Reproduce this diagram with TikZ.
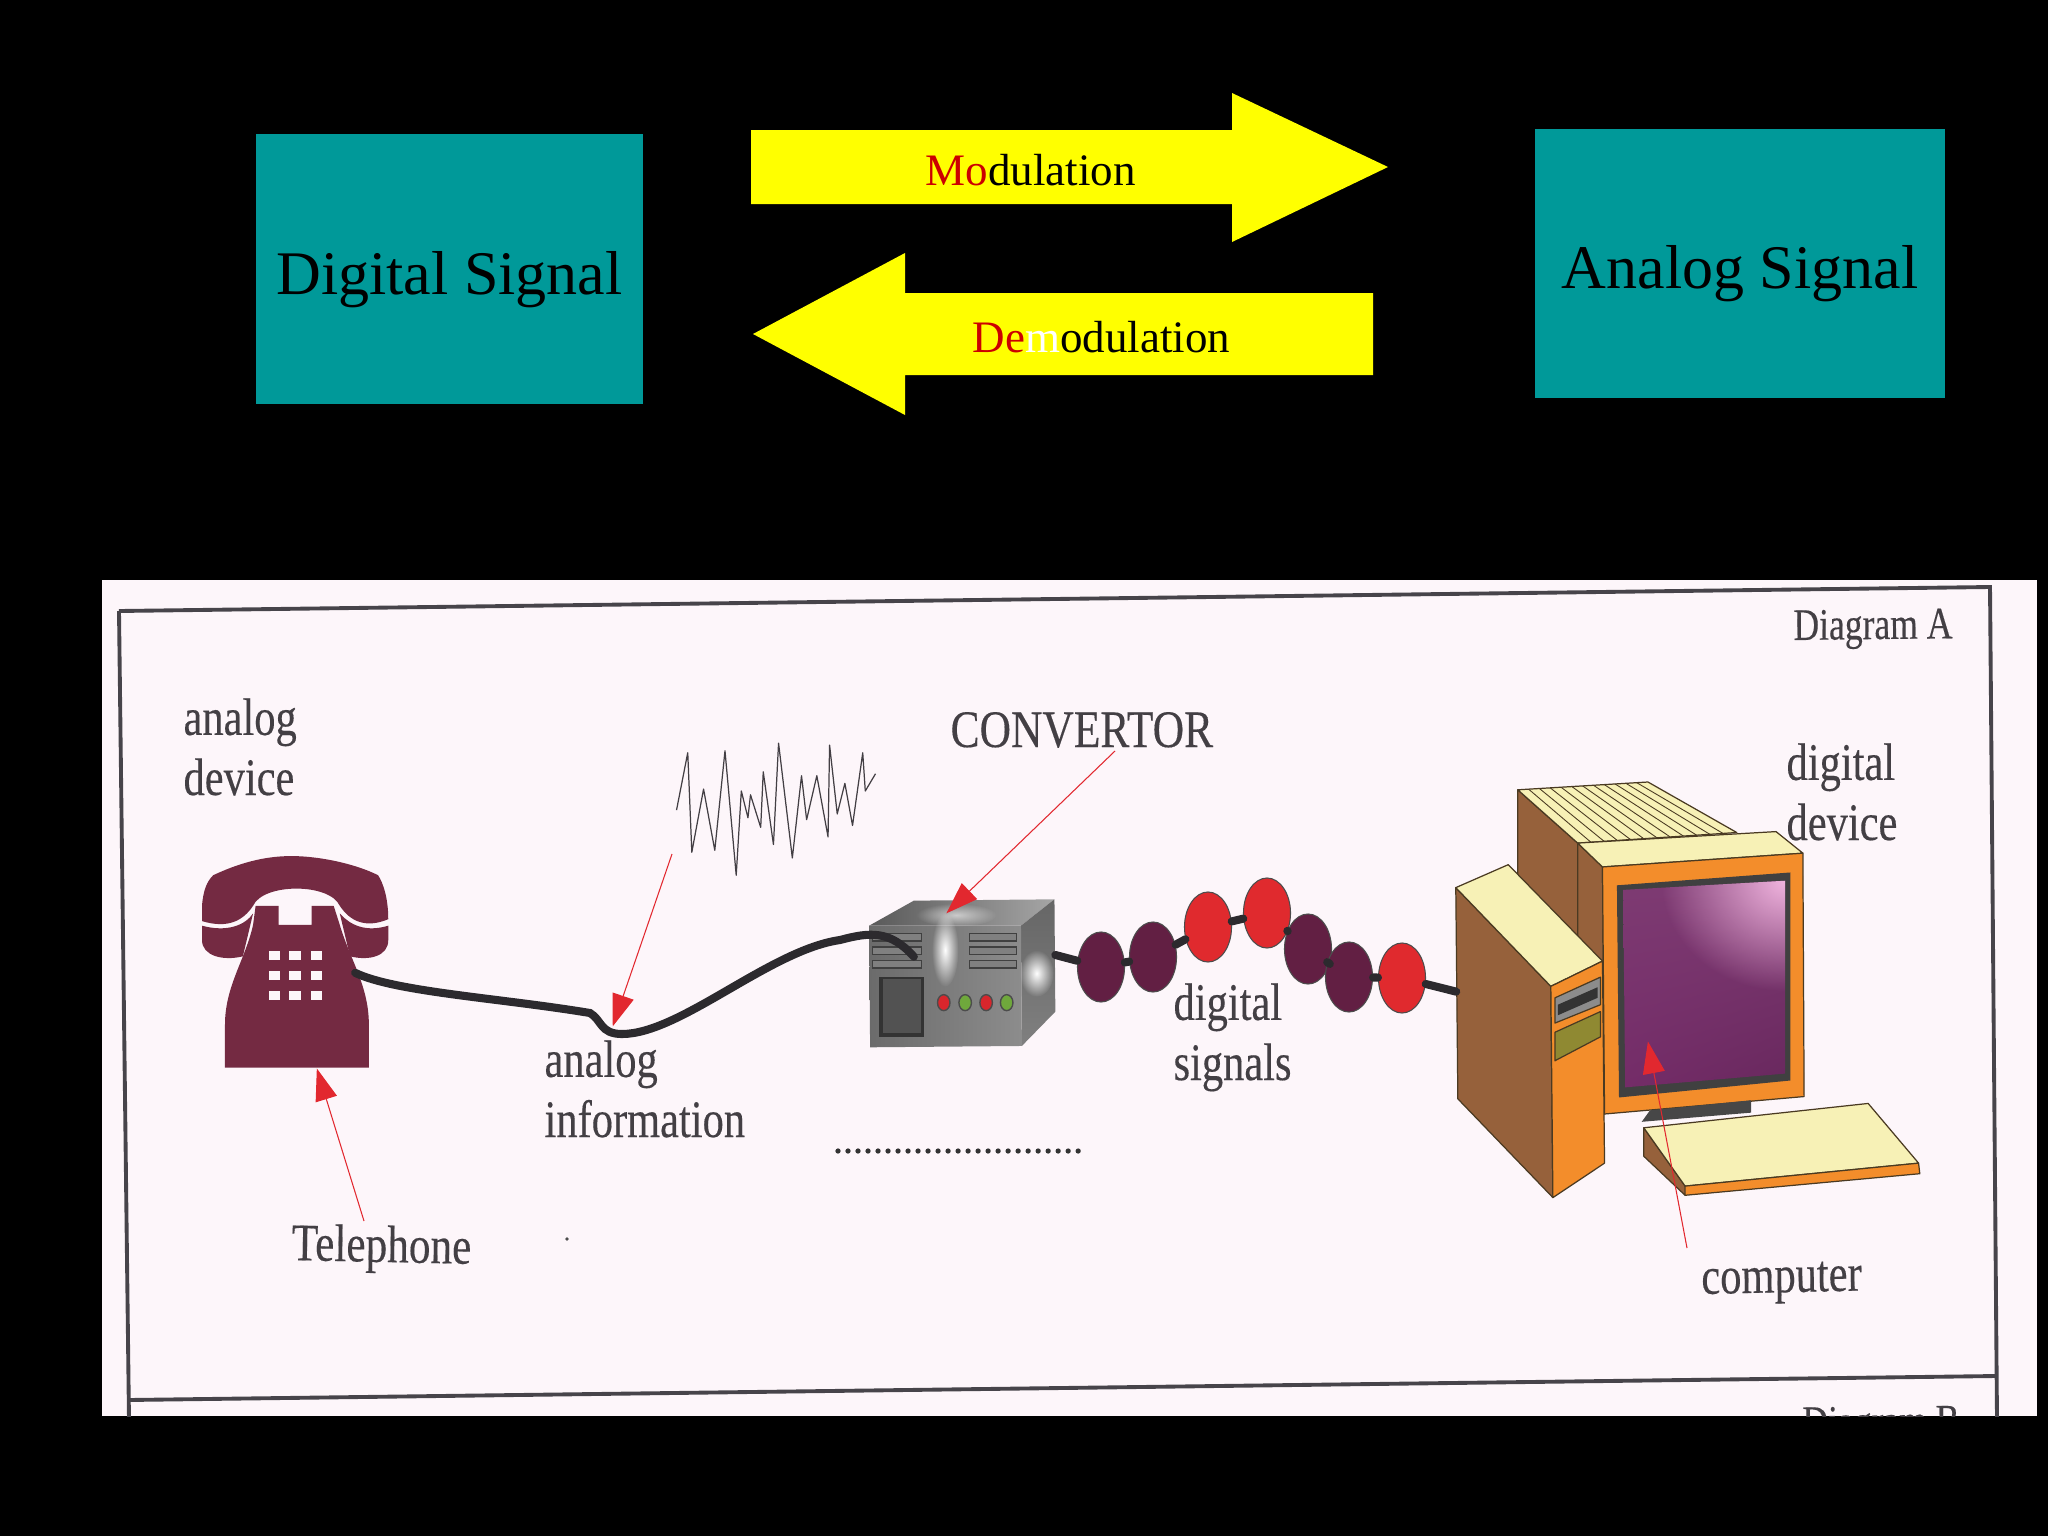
\documentclass[tikz,border=0pt]{standalone}
\usepackage{fontspec}
\setmainfont{Liberation Serif}
\newfontfamily\scanfont[FakeBold=.3]{Liberation Serif}
\usetikzlibrary{arrows.meta, shapes.geometric, shadings, fadings}

\definecolor{signalteal}{HTML}{009999}
\definecolor{arrowyellow}{HTML}{FFFF00}
\definecolor{wordred}{HTML}{CC0000}
\definecolor{paper}{HTML}{FDF6FA}
\definecolor{framegrey}{HTML}{47444A}
\definecolor{labelgrey}{HTML}{433F44}
\definecolor{phonered}{HTML}{742A42}
\definecolor{cablegrey}{HTML}{2C2A2E}
\definecolor{leaderred}{HTML}{E2282F}
\definecolor{beadpurple}{HTML}{621F43}
\definecolor{beadred}{HTML}{E02A2E}
\definecolor{cream}{HTML}{F7F1B6}
\definecolor{caseorange}{HTML}{F38D2B}
\definecolor{casebrown}{HTML}{96613B}
\definecolor{caseline}{HTML}{4A3A22}
\definecolor{screenpurple}{HTML}{742C68}
\definecolor{screenpink}{HTML}{F0B4DE}
\definecolor{ledgreen}{HTML}{6FA83C}
\definecolor{ledred}{HTML}{D8262C}

\tikzfading[name=glow, inner color=transparent!0, outer color=transparent!100]

\tikzstyle{signalbox} = [rectangle, inner sep=0, text=black, fill=signalteal, text height=.5cm, text depth=0pt, font=\fontsize{17.64}{20}\selectfont]
\tikzstyle{wordlabel} = [inner sep=0, anchor=base west, text=black, font=\fontsize{12.8}{15}\selectfont]
\tikzstyle{scanlabel}[.805] = [inner sep=0, anchor=base west, align=left, text=labelgrey, xscale=#1, transform shape, font=\scanfont\fontsize{15}{17.1}\selectfont]
\tikzstyle{frameline} = [draw=framegrey, line width=1.1pt]
\tikzstyle{cable} = [draw=cablegrey, line width=2.3pt, line cap=round]
\tikzstyle{leader} = [draw=leaderred, line width=.3pt, -{Triangle[length=.32cm,width=.22cm]}]
\tikzstyle{bead} = [ellipse, inner sep=0, minimum width=.47cm, minimum height=.7cm, draw=black!70, line width=.3pt]
\tikzstyle{caseface} = [draw=caseline, line width=.35pt, line join=round]
\tikzstyle{phonearea} = [shift={(100,680)}, xscale=.5102, yscale=.3827]
\tikzstyle{convarea} = [shift={(800,680)}, xscale=.4464, yscale=.3333]
\tikzstyle{compuarea} = [shift={(1400,720)}, xscale=.4132, yscale=.4592]

\begin{document}
\begin{tikzpicture}[x=.01cm, y=-.01cm]
        \useasboundingbox (0,0) rectangle (2048,1536);
        \fill[black] (0,0) rectangle (2048,1536);

        % Boxes
        \node (digital) [signalbox, minimum width=3.87cm, minimum height=2.70cm] at (449.5,269) {Digital Signal};
        \node (analog) [signalbox, minimum width=4.10cm, minimum height=2.69cm] at (1740,263.5) {Analog Signal};

        % Big arrows
        \fill[arrowyellow] (751,130) -- (1232,130) -- (1232,93) -- (1388,167) -- (1232,242) -- (1232,204) -- (751,204) -- cycle;
        \fill[arrowyellow] (1373,293) -- (905,293) -- (905,253) -- (753,334) -- (905,415) -- (905,375) -- (1373,375) -- cycle;
        \node (modulation) [wordlabel] at (925,185) {\textcolor{wordred}{Mo}dulation};
        \node (demodulation) [wordlabel] at (972,352) {\textcolor{wordred}{De}\textcolor{white}{m}odulation};

        % Scanned sheet
        \fill[paper] (102,580) rectangle (2037,1416);
        \begin{scope}
        \clip (102,580) rectangle (2037,1416);
        \draw[frameline] (119,611) -- (1990,587) -- (1997,1420);
        \draw[frameline] (119,611) -- (129,1420);
        \draw[frameline] (128,1400) -- (1996,1376);
        \node (diagramb) [scanlabel=.79, font=\scanfont\fontsize{12.8}{15}\selectfont, rotate=.5] at (1802,1437) {Diagram B};
        \end{scope}
        \node (diagrama) [scanlabel=.79, font=\scanfont\fontsize{12.8}{15}\selectfont, rotate=.5] at (1793,640) {Diagram A};

        % Telephone
        \begin{scope}[phonearea]
        \fill[phonered] (200,630) -- (200,590) .. controls (202,550) and (210,525) .. (222,510)
            .. controls (270,480) and (320,460) .. (375,460) .. controls (430,460) and (500,480) .. (545,510)
            .. controls (555,530) and (565,570) .. (565,625)
            .. controls (520,650) and (490,630) .. (470,590) .. controls (450,530) and (320,530) .. (300,590)
            .. controls (280,630) and (250,650) .. (200,630) -- cycle;
        \fill[phonered] (200,642) .. controls (250,660) and (285,640) .. (300,610) -- (280,722)
            .. controls (240,735) and (200,720) .. (200,680) -- cycle;
        \fill[phonered] (565,642) .. controls (520,660) and (490,640) .. (470,610) -- (490,722)
            .. controls (530,735) and (565,720) .. (565,680) -- cycle;
        \fill[phonered] (305,590) -- (350,590) -- (350,640) -- (415,640) -- (415,590) -- (458,590) -- (470,640)
            .. controls (490,730) and (527,800) .. (527,900) -- (527,1013) -- (245,1013) -- (245,900)
            .. controls (245,800) and (285,730) .. (300,640) -- cycle;
        \foreach \row in {720,772,824}
            \foreach \col in {342,382,425}
                \fill[paper] (\col-11,\row-11) rectangle (\col+11,\row+11);
        \coordinate (phonejack) at (500,765);
        \coordinate (phonebase) at (425,1015);
        \coordinate (dip) at (1005,905);
        \end{scope}

        % Convertor box
        \begin{scope}[convarea]
        \shade[left color=black!65, right color=black!35] (155,737) -- (255,662) -- (570,658) -- (495,737) -- cycle;
        \shade[top color=black!60, bottom color=black!50] (495,737) -- (570,658) -- (572,995) -- (497,1098) -- cycle;
        \shade[left color=black!58, right color=black!45] (155,737) -- (495,737) -- (497,1098) -- (157,1102) -- cycle;
        \fill[white, path fading=glow] (325,810) ellipse (30 and 110);
        \fill[white, path fading=glow] (530,880) ellipse (38 and 70);
        \fill[white, path fading=glow, opacity=.6] (350,705) ellipse (90 and 35);
        \foreach \row in {772,812,853} {
            \filldraw[fill=black!50, draw=black!75, line width=.3pt] (162,\row-11) rectangle (273,\row+11);
            \filldraw[fill=black!50, draw=black!75, line width=.3pt] (380,\row-11) rectangle (485,\row+11);
        }
        \fill[black!80] (178,890) rectangle (278,1070);
        \fill[black!68] (186,898) rectangle (270,1060);
        \foreach \ledx/\ledc in {322/ledred, 370/ledgreen, 417/ledred, 463/ledgreen}
            \filldraw[fill=\ledc, draw=black!70, line width=.4pt] (\ledx,968) ellipse (14 and 24);
        \coordinate (boxin) at (255,830);
        \coordinate (boxout) at (572,825);
        \coordinate (boxtop) at (328,700);
        \coordinate (towerjack) at (1470,935);
        \end{scope}

        % Computer
        \begin{scope}[compuarea]
        \filldraw[caseface, fill=casebrown] (285,152) -- (430,268) -- (430,480) -- (285,340) -- cycle;
        \filldraw[caseface, fill=cream] (285,152) -- (600,135) -- (815,245) -- (430,268) -- cycle;
        \foreach \i in {1,...,11}
            \draw[caseline, line width=.25pt] (285+\i*26.2,152-\i*1.4) -- (430+\i*32,268-\i*1.9);
        \filldraw[caseface, fill=casebrown] (430,268) -- (490,320) -- (495,858) -- (430,700) -- cycle;
        \filldraw[caseface, fill=cream] (430,268) -- (490,320) -- (975,290) -- (910,243) -- cycle;
        \filldraw[caseface, fill=caseorange] (490,320) -- (975,290) -- (978,820) -- (495,858) -- cycle;
        \fill[black!75] (525,360) -- (945,332) -- (945,785) -- (530,822) -- cycle;
        \begin{scope}
        \clip (540,370) -- (932,350) -- (932,770) -- (545,800) -- cycle;
        \shade[upper left=screenpurple!93!white, upper right=screenpurple!93!white, lower left=screenpurple, lower right=screenpurple!90!black]
            (540,350) rectangle (932,800);
        \fill[screenpink, path fading=glow] (932,350) ellipse (300 and 240);
        \end{scope}
        \fill[black!72] (585,875) -- (605,850) -- (850,828) -- (850,855) -- cycle;
        \filldraw[caseface, fill=casebrown] (135,365) -- (365,580) -- (370,1040) -- (140,825) -- cycle;
        \filldraw[caseface, fill=cream] (135,365) -- (262,315) -- (490,525) -- (365,580) -- cycle;
        \filldraw[caseface, fill=caseorange] (365,580) -- (490,525) -- (495,965) -- (370,1040) -- cycle;
        \filldraw[caseface, fill=black!45] (375,605) -- (485,560) -- (485,620) -- (375,660) -- cycle;
        \fill[black!80] (382,620) -- (478,582) -- (478,605) -- (382,643) -- cycle;
        \filldraw[caseface, fill=olive!65!gray] (375,680) -- (485,635) -- (485,690) -- (375,742) -- cycle;
        \filldraw[caseface, fill=casebrown] (590,888) -- (690,1015) -- (690,1035) -- (590,950) -- cycle;
        \filldraw[caseface, fill=cream] (590,888) -- (1133,835) -- (1255,965) -- (690,1015) -- cycle;
        \filldraw[caseface, fill=caseorange] (690,1015) -- (1255,965) -- (1258,988) -- (690,1035) -- cycle;
        \coordinate (screenpoint) at (600,700);
        \end{scope}

        % Wave
        \begin{scope}[phonearea]
        \draw[labelgrey, line width=.35pt, line join=round] (1130,340) -- (1152,190) -- (1160,450) -- (1183,285) -- (1205,445) -- (1225,185) -- (1247,510) -- (1257,290) -- (1270,360) -- (1275,300) -- (1295,385) -- (1300,240) -- (1320,430) -- (1330,165) -- (1357,465) -- (1375,250) -- (1385,365) -- (1405,250) -- (1427,410) -- (1430,170) -- (1445,350) -- (1460,270) -- (1475,380) -- (1495,190) -- (1500,290) -- (1520,245);
        \end{scope}

        % Beads
        \foreach \i/\xx/\yy/\tone in {1/1101/967/beadpurple, 2/1153/957/beadpurple, 3/1208/927/beadred, 4/1267/913/beadred, 5/1308/949/beadpurple, 6/1349/977/beadpurple, 7/1402/978/beadred}
            \node (bead\i) [bead, fill=\tone] at (\xx,\yy) {};

        % Labels
        \node (analogdev) [scanlabel] at (183,795) {analog\\device};
        \node (telephone) [scanlabel=.82, rotate=-1] at (291,1260) {Telephone};
        \node (analoginfo) [scanlabel] at (544,1137) {analog\\information};
        \node (convertor) [scanlabel=.825] at (950,747) {CONVERTOR};
        \node (digitalsig) [scanlabel] at (1173,1080) {digital\\signals};
        \node (digitaldev) [scanlabel] at (1786,840) {digital\\device};
        \node (computer) [scanlabel, rotate=1] at (1701,1294) {computer};

        % Dots
        \draw[black!80, line width=1.5pt, line cap=round, dash pattern=on 0pt off .1cm] (838,1151) -- (1080,1151);
        \fill[black!70] (567,1239) circle (1.8);

        % Cables
        \draw[cable] (phonejack) .. controls (395,992) and (500,998) .. (590,1013) .. controls (602,1020) and (600,1034) .. (622,1034)
            .. controls (680,1034) and (770,950) .. (840,940) .. controls (870,932) and (890,930) .. (boxin);
        \draw[cable] (boxout) -- (bead1);
        \draw[cable] (bead1) -- (bead2);
        \draw[cable] (bead2) -- (bead3);
        \draw[cable] (bead3) -- (bead4);
        \draw[cable] (bead4) -- (bead5);
        \draw[cable] (bead5) -- (bead6);
        \draw[cable] (bead6) -- (bead7);
        \draw[cable] (bead7) -- (towerjack);

        % Leaders
        \coordinate (telestart) at (364,1221);
        \coordinate (infostart) at (672,854);
        \coordinate (convstart) at (1115,751);
        \coordinate (compstart) at (1687,1248);
        \draw[leader] (telestart) -- (phonebase);
        \draw[leader] (infostart) -- (dip);
        \draw[leader] (convstart) -- (boxtop);
        \draw[leader] (compstart) -- (screenpoint);
    \end{tikzpicture}
\end{document}
